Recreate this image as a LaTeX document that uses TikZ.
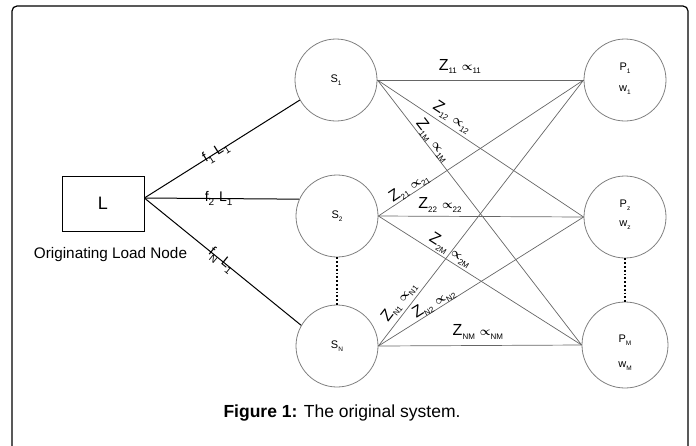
\documentclass[tikz,border=0pt]{standalone}
\usepackage{amsmath}
\usepackage{fontspec}
\setmainfont{Liberation Sans}
\begin{document}
\begin{tikzpicture}[x=1pt,y=-1pt,
  circ/.style={draw=black!50,line width=0.8pt,circle,minimum size=82pt,inner sep=0pt},
  conn/.style={draw=black!60,line width=0.7pt},
  feed/.style={draw=black,line width=1pt},
  zl/.style={sloped,inner sep=0pt,font=\fontsize{16}{18}\selectfont},
  fl/.style={sloped,inner sep=0pt,font=\fontsize{14}{16}\selectfont},
  lab/.style={font=\fontsize{11}{13}\selectfont}]
\newcommand\zsub[1]{\raisebox{-3.5pt}{\fontsize{8}{9}\selectfont #1}}
\newcommand\fsub[1]{\raisebox{-4pt}{\fontsize{10}{11}\selectfont #1}}
\newcommand\ssub[1]{\raisebox{-3pt}{\fontsize{6.5}{7}\selectfont #1}}
\newcommand\zz[1]{Z\zsub{#1}\hspace{5pt}{\fontsize{11.5}{13}\selectfont$\boldsymbol{\propto}$}\zsub{#1}}
\newcommand\ff[2]{f\fsub{#1}\hspace{5pt}L\fsub{#2}}
\useasboundingbox (0,0) rectangle (696,445);
% frame
\draw[line width=1.2pt,rounded corners=5pt] (12,446) -- (12,6) -- (688,6) -- (688,446);
% load box
\node[draw,line width=0.8pt,minimum width=82pt,minimum height=55pt,inner sep=0pt,font=\fontsize{18}{20}\selectfont] (L) at (103,203.5) {L};
\node[font=\fontsize{15.3}{17}\selectfont] (Lt) at (110.5,255) {Originating Load Node};
\coordinate (hub) at ([yshift=5.5pt]L.east);
% supply nodes
\node[circ] (S1) at (336,80) {};
\node[circ] (S2) at (337,216) {};
\node[circ] (SN) at (337,346) {};
\node[lab] at (S1) {S\ssub{1}};
\node[lab] at (S2) {S\ssub{2}};
\node[lab] at (SN) {S\ssub{N}};
% demand nodes
\node[circ] (P1) at (625,80) {};
\node[circ] (P2) at (625,217) {};
\node[circ,minimum size=86pt] (PM) at (625,345) {};
\node[lab] at ([yshift=12pt]P1) {P\ssub{1}};
\node[lab] at ([yshift=-10pt]P1) {w\ssub{1}};
\node[lab] at ([yshift=12pt]P2) {P\ssub{z}};
\node[lab] at ([yshift=-8pt]P2) {w\ssub{z}};
\node[lab] at ([yshift=5pt]PM) {P\ssub{M}};
\node[lab] at ([yshift=-21pt]PM) {w\ssub{M}};
% dotted
\draw[dotted,line width=1.8pt] (S2.south) -- (SN.north);
\draw[dotted,line width=1.8pt] (P2.south) -- (PM.north);
% feeds from L
\draw[feed] (hub) -- node[fl,pos=0.46] {\ff{1}{1}} (S1.209);
\draw[feed] (hub) -- node[fl,pos=0.48] {\ff{2}{1}} (S2.156);
\draw[feed] (hub) -- node[fl,pos=0.49] {\ff{N}{1}} (SN.150);
% connections S -> P
\draw[conn] (S1.east) -- node[zl,pos=0.40,above=6pt] {\zz{11}} (P1.west);
\draw[conn] (S1.east) -- node[zl,pos=0.335,above=3pt] {\zz{12}} (P2.west);
\draw[conn] (S1.east) -- node[zl,pos=0.245,above=-0.5pt] {\zz{1M}} (PM.west);
\draw[conn] (S2.east) -- node[zl,pos=0.167,above=-1pt] {\zz{21}} (P1.west);
\draw[conn] (S2.east) -- node[zl,pos=0.30,above=3.5pt] {\zz{22}} (P2.west);
\draw[conn] (S2.east) -- node[zl,pos=0.33,above=2pt] {\zz{2M}} (PM.west);
\draw[conn] (SN.east) -- node[zl,pos=0.142,above=3pt] {\zz{N1}} (P1.west);
\draw[conn] (SN.east) -- node[zl,pos=0.287,above=-1pt] {\zz{N2}} (P2.west);
\draw[conn] (SN.east) -- node[zl,pos=0.49,above=6pt] {\zz{NM}} (PM.west);
% caption
\node[font=\fontsize{17.5}{20}\selectfont] (cap) at (342,413) {\textbf{Figure 1:} The original system.};
\end{tikzpicture}
\end{document}
